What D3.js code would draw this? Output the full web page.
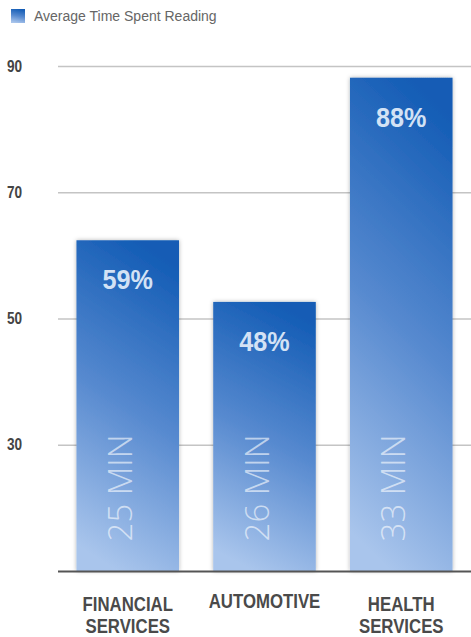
<!DOCTYPE html>
<html>
<head>
<meta charset="utf-8">
<script src="https://cdn.jsdelivr.net/npm/d3@7/dist/d3.min.js"></script>
<style>
  html, body { margin: 0; padding: 0; background: #fff; }
  svg { display: block; }
</style>
</head>
<body>
<div id="chart"></div>
<script>
// Chart data
const categories = ["FINANCIAL SERVICES", "AUTOMOTIVE", "HEALTH SERVICES"];
const categoryLines = [["FINANCIAL", "SERVICES"], ["AUTOMOTIVE"], ["HEALTH", "SERVICES"]];
const percentValues = [59, 48, 88];
const minutes = [25, 26, 33];
const axisTicks = [30, 50, 70, 90];
const legendLabel = "Average Time Spent Reading";

const width = 471, height = 637;
const plotLeft = 58, plotRight = 471, plotTop = 66, plotBottom = 571;
const condensedFont = "'Liberation Sans', Arial, sans-serif";

const svg = d3.select("#chart").append("svg")
  .attr("width", width).attr("height", height);

const defs = svg.append("defs");
const grad = defs.append("linearGradient")
  .attr("id", "barGrad")
  .attr("x1", 0.4).attr("y1", 1).attr("x2", 0.6).attr("y2", 0);
grad.append("stop").attr("offset", 0).attr("stop-color", "#a9c5ec");
grad.append("stop").attr("offset", 0.5).attr("stop-color", "#5689cf");
grad.append("stop").attr("offset", 1).attr("stop-color", "#135cb5");

const shadow = defs.append("filter").attr("id", "barShadow")
  .attr("x", "-20%").attr("y", "-10%").attr("width", "140%").attr("height", "120%");
shadow.append("feDropShadow")
  .attr("dx", 0).attr("dy", 0).attr("stdDeviation", 2)
  .attr("flood-color", "#000").attr("flood-opacity", 0.3);

// Scales: gridline axis (10..90) and bar heights measured from zero
const yAxisScale = d3.scaleLinear().domain([10, 90]).range([plotBottom, plotTop]);
const yBar = d3.scaleLinear().domain([0, 90]).range([plotBottom, plotTop + 0.5]);
const x = d3.scaleBand().domain(categories)
  .range([plotLeft, plotRight]).paddingInner(0.25).paddingOuter(0.135);
const cx = d => x(d) + x.bandwidth() / 2;

// Gridlines
const grid = svg.append("g")
  .attr("transform", `translate(${plotLeft},0)`)
  .call(d3.axisLeft(yAxisScale).tickValues(axisTicks)
    .tickSize(-(plotRight - plotLeft)).tickFormat(""));
grid.select(".domain").remove();
grid.selectAll(".tick line").attr("stroke", "#c4c4c4").attr("stroke-width", 1.6);

// Tick labels (horizontally condensed)
svg.append("g").selectAll("text").data(axisTicks).join("text")
  .attr("transform", d => `translate(7,${yAxisScale(d) + 5.5}) scale(0.85,1)`)
  .attr("font-family", condensedFont)
  .attr("font-weight", "bold").attr("font-size", 16)
  .attr("fill", "#444").text(d => d);

// Bars
const bars = svg.append("g").selectAll("g").data(categories).join("g");
bars.append("rect")
  .attr("x", d => x(d))
  .attr("y", (d, i) => yBar(percentValues[i]))
  .attr("width", x.bandwidth())
  .attr("height", (d, i) => yBar(0) - yBar(percentValues[i]))
  .attr("fill", "url(#barGrad)")
  .attr("filter", "url(#barShadow)");

// Percent labels
bars.append("text")
  .attr("transform", (d, i) => `translate(${cx(d)},${yBar(percentValues[i]) + 49}) scale(0.9,1)`)
  .attr("text-anchor", "middle")
  .attr("font-family", condensedFont)
  .attr("font-weight", "bold").attr("font-size", 28)
  .attr("fill", "#d3e2f5")
  .text((d, i) => percentValues[i] + "%");

// Minutes labels (rotated)
bars.append("text")
  .attr("transform", d => `translate(${cx(d) + 4},488) rotate(-90)`)
  .attr("text-anchor", "middle")
  .attr("font-family", "'Open Sans', sans-serif")
  .attr("font-weight", 300).attr("font-size", 33)
  .attr("fill", "#ffffff").attr("fill-opacity", 0.6)
  .text((d, i) => minutes[i] + " MIN");

// Baseline
svg.append("line")
  .attr("x1", plotLeft).attr("x2", plotRight)
  .attr("y1", yBar(0) + 0.5).attr("y2", yBar(0) + 0.5)
  .attr("stroke", "#555").attr("stroke-width", 2);

// Category labels
const cat = svg.append("g").selectAll("text").data(categories).join("text")
  .attr("transform", d => `translate(${cx(d)},0) scale(0.84,1)`)
  .attr("text-anchor", "middle")
  .attr("font-family", condensedFont)
  .attr("font-weight", "bold").attr("font-size", 20)
  .attr("fill", "#4a4a4a");
cat.each(function (d, i) {
  const t = d3.select(this);
  const lines = categoryLines[i];
  const firstBase = lines.length > 1 ? 611 : 608;
  lines.forEach((ln, j) => {
    t.append("tspan")
      .attr("x", 0)
      .attr("y", firstBase + j * 22.5)
      .text(ln);
  });
});

// Legend
const legend = svg.append("g");
legend.append("rect")
  .attr("x", 11).attr("y", 9).attr("width", 14).attr("height", 14)
  .attr("fill", "url(#barGrad)");
legend.append("text")
  .attr("x", 34).attr("y", 21)
  .attr("font-family", "'Liberation Sans', Arial, sans-serif")
  .attr("font-size", 14).attr("fill", "#666")
  .text(legendLabel);
</script>
</body>
</html>
